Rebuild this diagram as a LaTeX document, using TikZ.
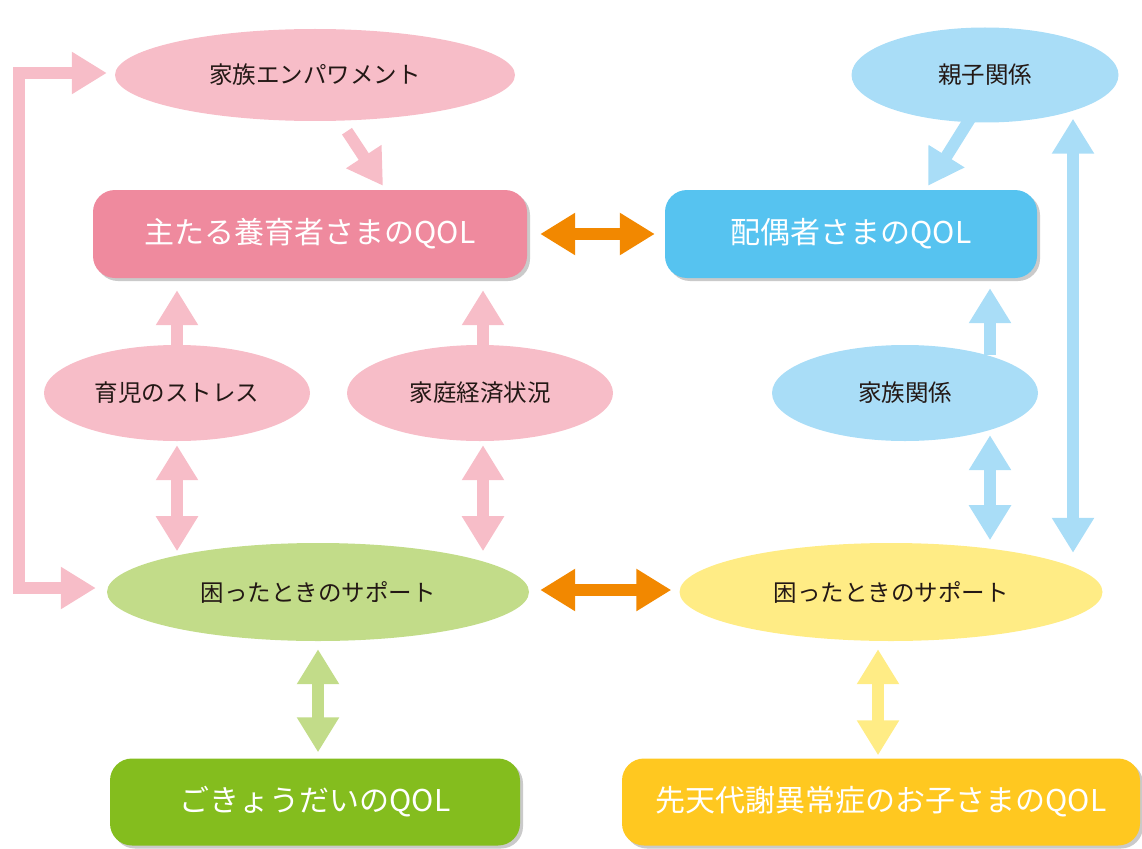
\documentclass[tikz,border=0pt]{standalone}
\usepackage{fontspec}
\newfontfamily\cjk{Noto Sans CJK JP}
\usetikzlibrary{arrows.meta,shapes.geometric,shadows,calc}
\definecolor{pinkL}{HTML}{F7BDC8}
\definecolor{pinkD}{HTML}{EF8A9E}
\definecolor{blueL}{HTML}{A9DDF7}
\definecolor{blueD}{HTML}{56C3F0}
\definecolor{greenL}{HTML}{C2DC89}
\definecolor{greenD}{HTML}{84BD1E}
\definecolor{yellowL}{HTML}{FFEC85}
\definecolor{yellowD}{HTML}{FFC820}
\definecolor{orangeC}{HTML}{F28800}
\definecolor{txt}{HTML}{231815}
\begin{document}
\begin{tikzpicture}[x=1pt,y=-1pt,
  ell/.style={ellipse, inner sep=0pt, text=txt, font=\cjk\fontsize{23.5}{28}\selectfont},
  box/.style={rectangle, rounded corners=22pt, inner sep=0pt, text=white,
    font=\cjk\fontsize{30}{36}\selectfont,
    drop shadow={shadow xshift=3pt, shadow yshift=-3pt, opacity=0.35, fill=black!60}},
  one/.style={line width=12pt, -{Triangle[width=40pt,length=35pt]}},
  two/.style={line width=12pt, {Triangle[width=40pt,length=35pt]}-{Triangle[width=40pt,length=35pt]}},
]
\useasboundingbox (0,0) rectangle (1142,848);

% nodes
\node[ell, fill=pinkL, minimum width=400pt, minimum height=92pt] (emp) at (315,75) {家族エンパワメント};
\node[ell, fill=blueL, minimum width=267pt, minimum height=95pt] (oya) at (985,75) {親子関係};
\node[box, fill=pinkD, minimum width=434pt, minimum height=88pt] (prim) at (310,234) {主たる養育者さまのQOL};
\node[box, fill=blueD, minimum width=372pt, minimum height=88pt] (sp) at (851,234) {配偶者さまのQOL};
\node[ell, fill=pinkL, minimum width=266pt, minimum height=96pt] (str) at (177,393) {育児のストレス};
\node[ell, fill=pinkL, minimum width=266pt, minimum height=96pt] (eco) at (480,393) {家庭経済状況};
\node[ell, fill=blueL, minimum width=266pt, minimum height=96pt] (fam) at (905,393) {家族関係};
\node[ell, fill=greenL, minimum width=422pt, minimum height=98pt] (gs) at (318,592) {困ったときのサポート};
\node[ell, fill=yellowL, minimum width=423pt, minimum height=98pt] (ys) at (891,592) {困ったときのサポート};
\node[box, fill=greenD, minimum width=410pt, minimum height=87pt] (sib) at (315,802) {ごきょうだいのQOL};
\node[box, fill=yellowD, minimum width=518pt, minimum height=87pt] (child) at (881,802) {先天代謝異常症のお子さまのQOL};

% connectors
\draw[one, pinkL] ($(emp.south)+(32,10)$) -- ($(prim.north)+(73,-4)$);
\draw[one, blueL] ($(oya.south)+(-15,-4)$) -- ($(sp.north)+(77,-4)$);
\draw[two, orangeC] ($(prim.east)+(13,0)$) -- ($(sp.west)+(-10,0)$);
\draw[two, orangeC] ($(gs.east)+(11,-2)$) -- ($(ys.west)+(-8,-2)$);
\draw[two, pinkL, line join=miter] ($(emp.west)+(-8,-2)$) -- ++(-88,0) |- ($(gs.west)+(-11,-4)$);
\draw[one, pinkL] (str.north) -- ($(str.north |- prim.south)+(0,12)$);
\draw[one, pinkL] ($(eco.north)+(3,2)$) -- ($(eco.north |- prim.south)+(3,12)$);
\draw[two, pinkL] ($(str.south)+(0,4)$) -- ++(0,106);
\draw[two, pinkL] ($(eco.south)+(3,4)$) -- ++(0,106);
\draw[one, blueL] ($(fam.north)+(85,10)$) -- ($(sp.south)+(139,10)$);
\draw[two, blueL] ($(fam.south)+(85,-6)$) -- ++(0,105);
\draw[two, blueL] ($(oya.south)+(88,-4)$) -- ($(ys.north)+(182,10)$);
\draw[two, greenL] ($(gs.south)+(0,8)$) -- ($(sib.north)+(3,-6)$);
\draw[two, yellowL] ($(ys.south)+(-13,8)$) -- ($(child.north)+(-3,-3)$);
\end{tikzpicture}
\end{document}
